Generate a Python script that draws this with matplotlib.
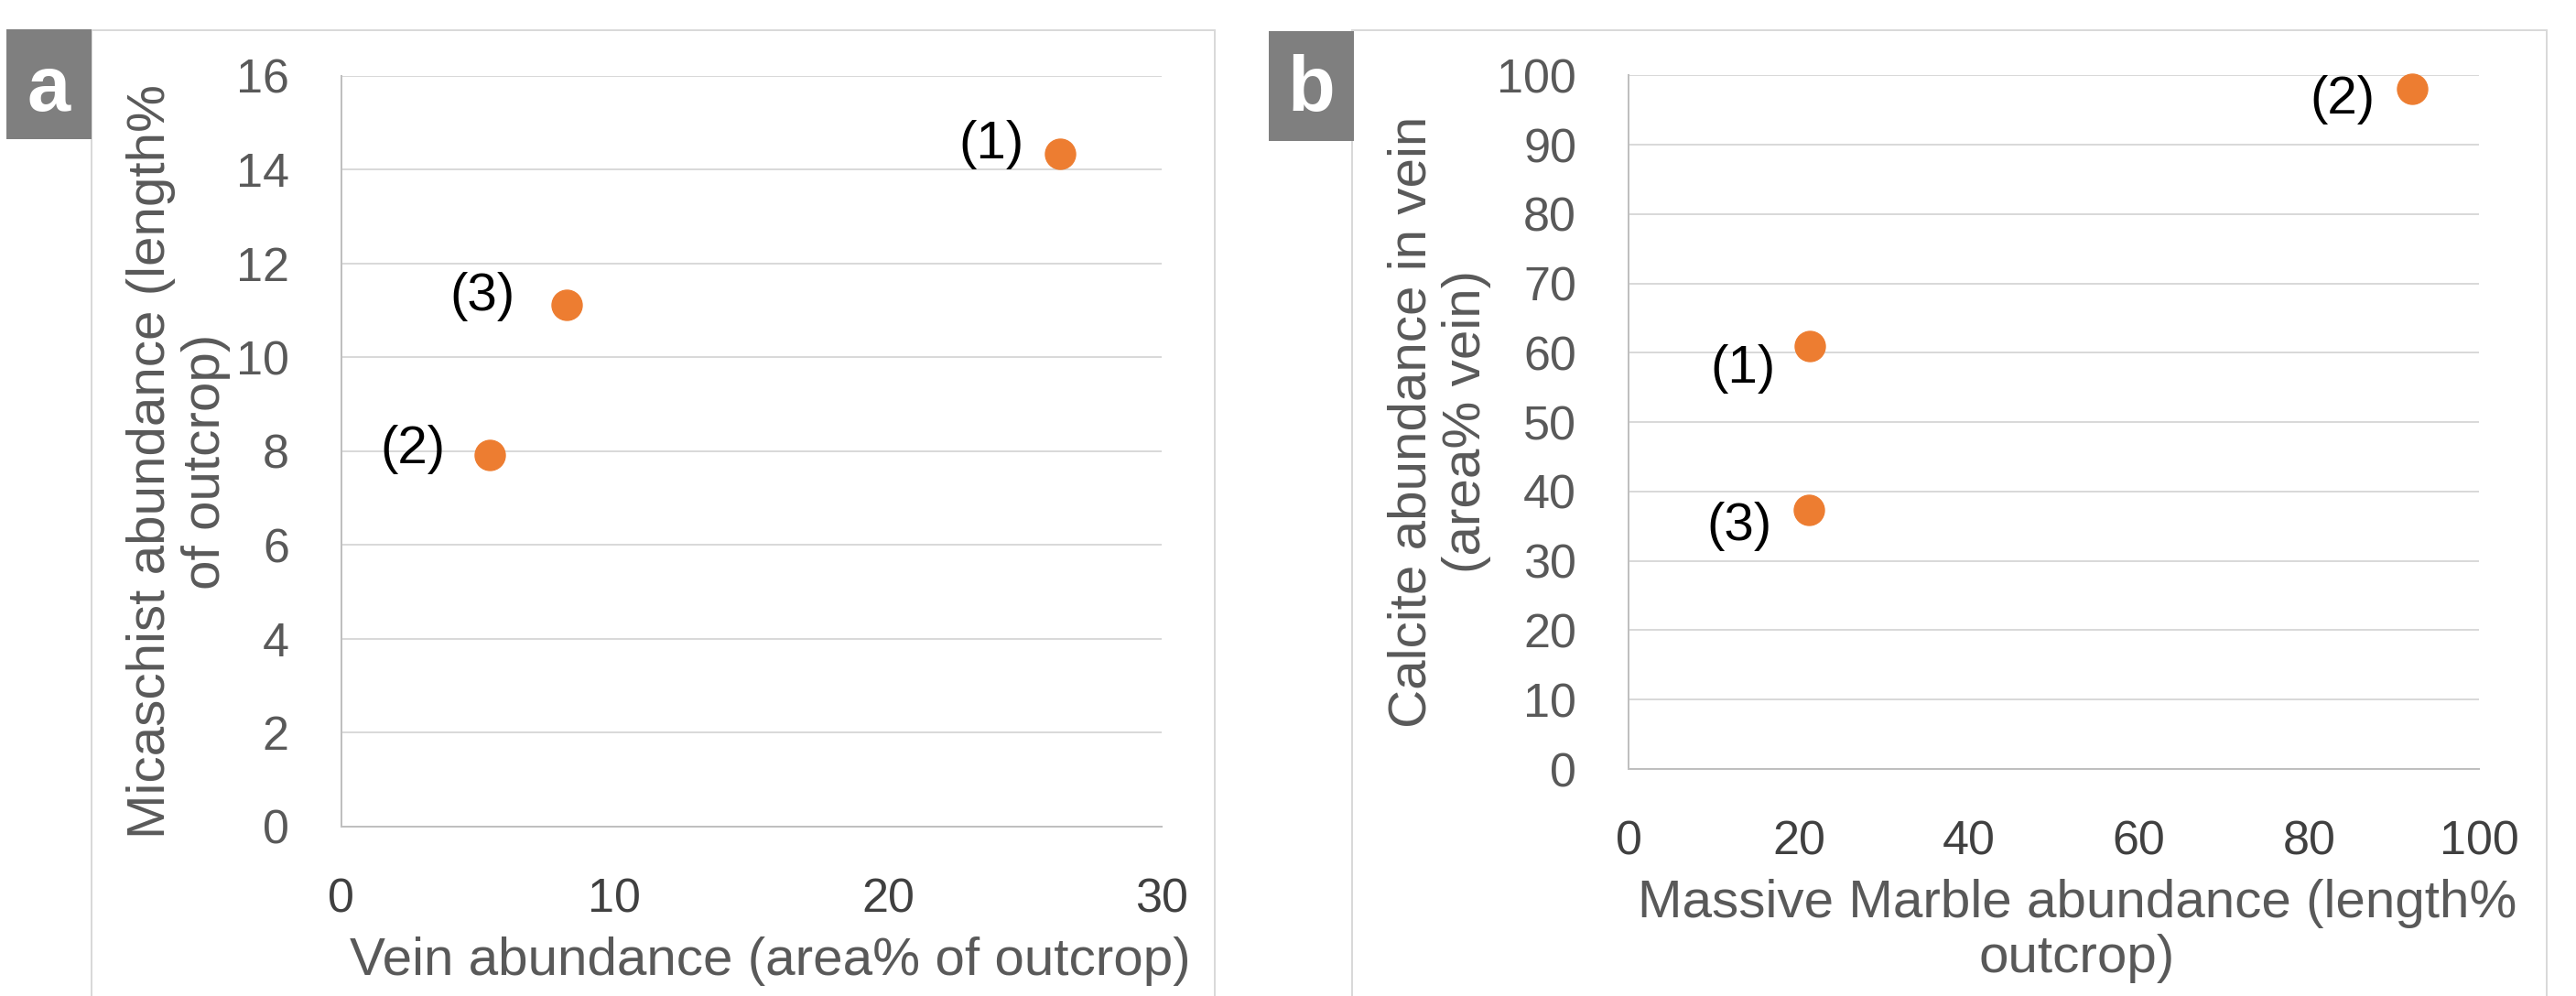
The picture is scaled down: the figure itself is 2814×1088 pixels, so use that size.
import matplotlib
matplotlib.use("Agg")
import matplotlib.pyplot as plt
from matplotlib.patches import Rectangle

plt.rcParams.update({"font.family": ["Liberation Sans", "DejaVu Sans"]})

W, H, DPI = 2814, 1088, 100
ORANGE = "#ED7D31"
GRID = "#d9d9d9"
AXIS = "#bfbfbf"
TITLE_C = "#595959"
XTICK_C = "#404040"

# ---- data ----
point_labels = ["(1)", "(2)", "(3)"]
vein_abund = [26.3, 5.45, 8.25]            # panel a, x
micaschist_abund = [14.33, 7.92, 11.12]    # panel a, y
marble_abund = [21.3, 92.1, 21.2]          # panel b, x
calcite_abund = [61.0, 98.1, 37.3]         # panel b, y

xticks_a = [0, 10, 20, 30]
yticks_a = [0, 2, 4, 6, 8, 10, 12, 14, 16]
xticks_b = [0, 20, 40, 60, 80, 100]
yticks_b = [0, 10, 20, 30, 40, 50, 60, 70, 80, 90, 100]

# label offsets from marker centre, in pixels (dx, dy up)
offs_a = [(-39, 10), (-49, 6), (-56, 9)]
offs_b = [(-37, -25), (-40, -12), (-40, -18)]

fig = plt.figure(figsize=(W / DPI, H / DPI), dpi=DPI)
PX = 72 / DPI  # pixel -> points


def fx(x):
    return x / W


def fy(y):
    return 1 - y / H


def axes_px(left, right, top, bottom):
    return fig.add_axes([fx(left), fy(bottom), (right - left) / W, (bottom - top) / H])


def frame(x0, x1, top):
    fig.patches.append(Rectangle((fx(x0), fy(H + 5)), (x1 - x0) / W, (H + 5 - top) / H,
                                 transform=fig.transFigure, fill=False,
                                 edgecolor=GRID, linewidth=2 * PX, zorder=0))


def tag(x0, x1, y0, y1, letter):
    fig.patches.append(Rectangle((fx(x0), fy(y1)), (x1 - x0) / W, (y1 - y0) / H,
                                 transform=fig.transFigure, facecolor="#7f7f7f",
                                 edgecolor="none", zorder=3))
    fig.text(fx((x0 + x1) / 2), fy(121), letter, ha="center", va="baseline",
             fontsize=61, fontweight="bold", color="white", zorder=4)


def style(ax, xt, yt):
    ax.set_xlim(xt[0], xt[-1]); ax.set_ylim(yt[0], yt[-1])
    ax.set_xticks(xt); ax.set_yticks(yt)
    for s in ("top", "right"):
        ax.spines[s].set_visible(False)
    for s in ("left", "bottom"):
        ax.spines[s].set_color(AXIS)
        ax.spines[s].set_linewidth(2 * PX)
    ax.yaxis.grid(True, color=GRID, linewidth=2 * PX)
    ax.set_axisbelow(True)
    ax.tick_params(axis="both", length=0, labelsize=37.5)
    ax.tick_params(axis="x", pad=40, labelcolor=XTICK_C)
    ax.tick_params(axis="y", pad=41, labelcolor=TITLE_C)


def points(ax, xs, ys, offs):
    ax.plot(xs, ys, "o", color=ORANGE, markersize=33 * PX, clip_on=False, zorder=3)
    for lab, x, y, (dx, dy) in zip(point_labels, xs, ys, offs):
        ax.annotate(lab, (x, y), xytext=(dx * PX, dy * PX), textcoords="offset points",
                    ha="right", va="center", fontsize=42, color="black")


def ytitle(x_base, y_mid, s):
    fig.text(fx(x_base), fy(y_mid), s, rotation=90, rotation_mode="anchor",
             ha="center", va="baseline", fontsize=42, color=TITLE_C)


def xtitle(x_mid, y_base, s):
    fig.text(fx(x_mid), fy(y_base), s, ha="center", va="baseline",
             fontsize=42, color=TITLE_C)


# ---- panel frames ----
frame(100, 1327, 33)
frame(1477, 2782, 33)

# ---- panel a ----
ax_a = axes_px(372.7, 1268.5, 82.7, 903)
style(ax_a, xticks_a, yticks_a)
points(ax_a, vein_abund, micaschist_abund, offs_a)
ytitle(180, 504, "Micaschist abundance (length%")
ytitle(240, 504, "of outcrop)")
xtitle(841, 1065, "Vein abundance (area% of outcrop)")
tag(7, 100, 32, 152, "a")

# ---- panel b ----
ax_b = axes_px(1779, 2708.3, 82.3, 840)
style(ax_b, xticks_b, yticks_b)
points(ax_b, marble_abund, calcite_abund, offs_b)
ytitle(1557, 461, "Calcite abundance in vein")
ytitle(1617, 461, "(area% vein)")
xtitle(2269, 1002, "Massive Marble abundance (length%")
xtitle(2269, 1062, "outcrop)")
tag(1386, 1479, 34, 154, "b")

fig.savefig("out.png", dpi=DPI)
